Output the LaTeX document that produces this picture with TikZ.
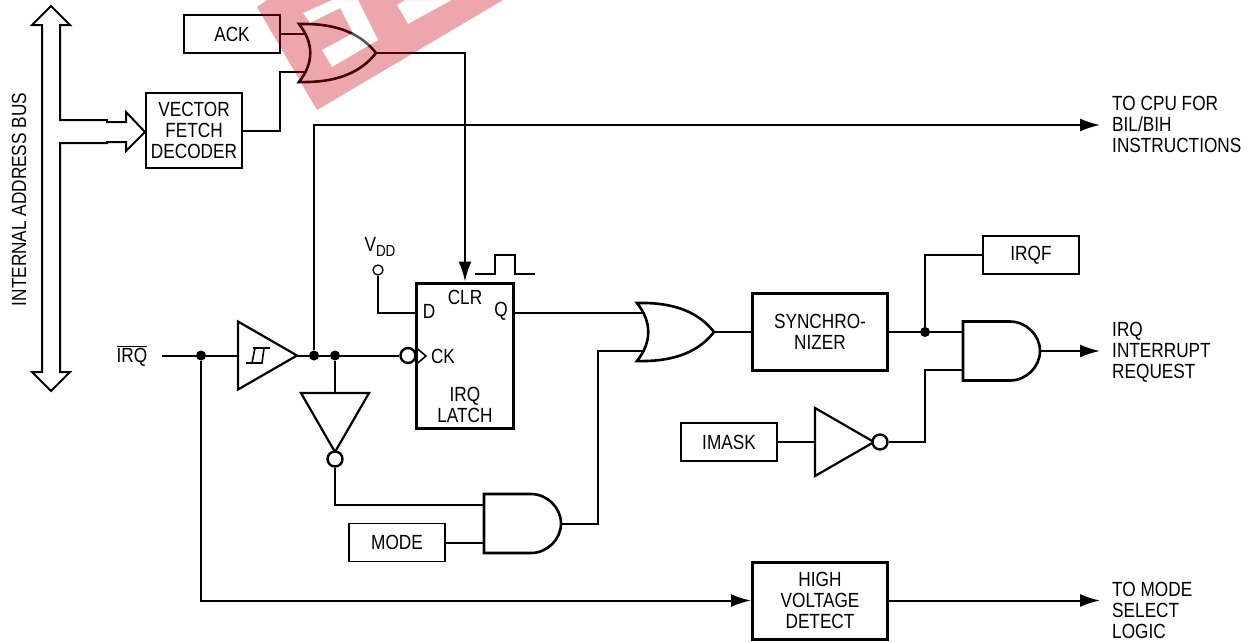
\documentclass[tikz,border=0pt]{standalone}
\usepackage{fontspec}
\setmainfont[FakeStretch=0.84]{Liberation Sans}
\usepackage{tikz}
\usetikzlibrary{arrows.meta,positioning,calc}
\definecolor{stampred}{RGB}{203,0,14}
\tikzset{
  regbox/.style  ={draw,line width=1.6pt,align=center,minimum width=96pt,minimum height=38pt,inner sep=0pt},
  heavybox/.style={draw,line width=3pt,align=center,minimum width=135pt,minimum height=77pt,inner sep=0pt},
  sig/.style     ={align=left,anchor=west,inner sep=0pt},
  plain/.style   ={align=center,inner sep=0pt},
  dot/.style     ={circle,fill,minimum size=10pt,inner sep=0pt},
  bubble/.style  ={circle,draw,line width=2.4pt,fill=white,minimum size=15pt,inner sep=0pt},
  smallpin/.style={circle,draw,line width=1.3pt,fill=white,minimum size=10pt,inner sep=0pt},
  wire/.style    ={line width=2pt},
  arrow/.style   ={-{Latex[length=20pt,width=13pt]},line width=2pt},
  orgate/.pic={
    \draw[line width=2.6pt,line join=miter] (0,-29) .. controls (40,-30) and (63,-18) .. (77,0)
      .. controls (63,18) and (40,30) .. (0,29) .. controls (15,10) and (15,-10) .. cycle;
    \coordinate (-a) at (8,-19);
    \coordinate (-b) at (8,19);
    \coordinate (-o) at (77,0);
  },
  andgate/.pic={
    \draw[line width=2.6pt] (0,-29.5) -- (47,-29.5) .. controls (63,-29.5) and (77,-16) .. (77,0)
      .. controls (77,16) and (63,29.5) .. (47,29.5) -- (0,29.5) -- cycle;
    \coordinate (-a) at (0,-19);
    \coordinate (-b) at (0,19);
    \coordinate (-o) at (77,0);
  },
  buffer/.pic={
    \draw[line width=2.2pt] (0,-34) -- (59,0) -- (0,34) -- cycle;
    \coordinate (-i) at (0,0);
    \coordinate (-o) at (59,0);
  }
}

\begin{document}
\begin{tikzpicture}[x=1pt,y=-1pt,every node/.style={font=\fontsize{20.5}{21}\selectfont}]
    \useasboundingbox (0,0) rectangle (1255,641);
    % address bus
    \draw[line width=2pt,line join=miter,fill=white] (51,6) -- (70,25) -- (60,25) -- (60,120) -- (107,120) -- (107,122) -- (126,122) -- (126,112)
      -- (145,132) -- (126,151) -- (126,142) -- (107,142) -- (107,143) -- (60,143) -- (60,372) -- (70,372) -- (51,391) -- (32,372)
      -- (42,372) -- (42,25) -- (32,25) -- cycle;
    \node[plain,rotate=90] (busname) at (19,199.5) {INTERNAL ADDRESS BUS};

    \node[regbox] (ack) at (232,34) {ACK};
    \node[regbox,minimum height=75pt] (vector) at (194,130.5) {VECTOR\\FETCH\\DECODER};
    \node[regbox] (irqf) at (1031,255) {IRQF};
    \node[regbox] (imask) at (729,442) {IMASK};
    \node[regbox] (mode) at (397,542.5) {MODE};
    \node[heavybox] (sync) at (820,332) {SYNCHRO-\\NIZER};
    \node[heavybox] (hvd) at (820,600.5) {HIGH\\VOLTAGE\\DETECT};
    \node[heavybox,minimum width=97pt,minimum height=145pt] (latch) at (465,355.5) {};

    \node[plain] (latchd) at (429,311) {D};
    \node[plain] (latchclr) at (465,297) {CLR};
    \node[plain] (latchq) at (501,311) {Q};
    \node[plain] (latchck) at (443,356) {CK};
    \node[plain] (latchname) at (465,405) {IRQ\\LATCH};

    \pic (orack) at (299,53) {orgate};
    \pic (orlatch) at (637,332) {orgate};
    \pic (andmode) at (484,523.5) {andgate};
    \pic (andout) at (963,351) {andgate};
    \pic (schmitt) at (238,355.5) {buffer};
    \pic[rotate=-90] (invfb) at (335,393) {buffer};
    \pic (invmask) at (815,442) {buffer};

    \draw[line width=1.6pt] (246,363) -- (262,363) -- (264,348) -- (270,348) (253,348) -- (264,348) (252,363) -- (255,348);

    \node[bubble] (ckbub) at (408,355.5) {};
    \node[bubble] (fbbub) at (335,459) {};
    \node[bubble] (maskbub) at (880,442) {};
    \node[smallpin] (vddpin) at (378,270) {};
    \node[plain] (vdd) at (380,247) {V\raisebox{-5pt}{\fontsize{16}{16}\selectfont DD}};

    \node[plain] (irqname) at (132,356) {$\overline{\mbox{IRQ}}$};
    \node[dot] (irqdot) at (201,355.5) {};
    \node[dot] (busdot) at (314,355.5) {};
    \node[dot] (fbdot) at (335,355.5) {};
    \node[dot] (syncdot) at (925,332) {};

    \node[sig] (tocpu) at (1112,124) {TO CPU FOR\\BIL/BIH\\INSTRUCTIONS};
    \node[sig] (toirq) at (1112,352.5) {IRQ\\INTERRUPT\\REQUEST};
    \node[sig] (tomode) at (1112,610) {TO MODE\\SELECT\\LOGIC};
    \coordinate (cpuend) at (1100,125);
    \coordinate (irqend) at (1100,351);
    \coordinate (modeend) at (1100,600.5);
    \coordinate (irqstart) at (162,355.5);

    \draw[wire] (ack.east) -- (orack-a);
    \draw[wire] (vector.east) -| (280,72) -- (orack-b);
    \draw[arrow] (orack-o) -| (latch.north);
    \draw[arrow] (busdot) |- (cpuend);
    \draw[wire] (irqstart) -- (schmitt-i);
    \draw[wire] (schmitt-o) -- (ckbub);
    \draw[arrow] (irqdot) |- (hvd.west);
    \draw[wire] (vddpin) |- (latch.west |- 0,313);
    \draw[line width=1.6pt] (416.5,348) -- (426,356) -- (416.5,364);
    \draw[wire] (fbdot) -- (invfb-i);
    \draw[wire] (fbbub) |- (andmode-a);
    \draw[wire] (mode.east) -- (andmode-b);
    \draw[wire] (latch.east |- 0,313) -- (orlatch-a);
    \draw[wire] (andmode-o) -| (598,351) -- (orlatch-b);
    \draw[wire] (orlatch-o) -- (sync.west);
    \draw[wire] (sync.east) -- (andout-a);
    \draw[wire] (syncdot) |- (irqf.west);
    \draw[wire] (maskbub) -| (925,370) -- (andout-b);
    \draw[wire] (imask.east) -- (invmask-i);
    \draw[arrow] (andout-o) -- (irqend);
    \draw[arrow] (hvd.east) -- (modeend);
    \draw[line width=1.6pt] (475,274) -- (495,274) -- (495,255) -- (515,255) -- (515,274) -- (535,274);

    % stamp across the top
    \fill[stampred,fill opacity=0.35,even odd rule] (267,0) -- (257,7) -- (317,110) -- (503,0) -- cycle
      (303,13) -- (332,0) -- (358,0) -- (378,40) -- (332,67) -- (322,50) -- (353,33) -- (340,8) -- (310,23) -- cycle
      (397,5) -- (408,24) -- (452,0) -- (405,0) -- cycle;
    \fill[white,fill opacity=0.35] (303,13) -- (332,0) -- (358,0) -- (378,40) -- (332,67) -- (322,50) -- (353,33) -- (340,8) -- (310,23) -- cycle;
  \end{tikzpicture}
\end{document}
